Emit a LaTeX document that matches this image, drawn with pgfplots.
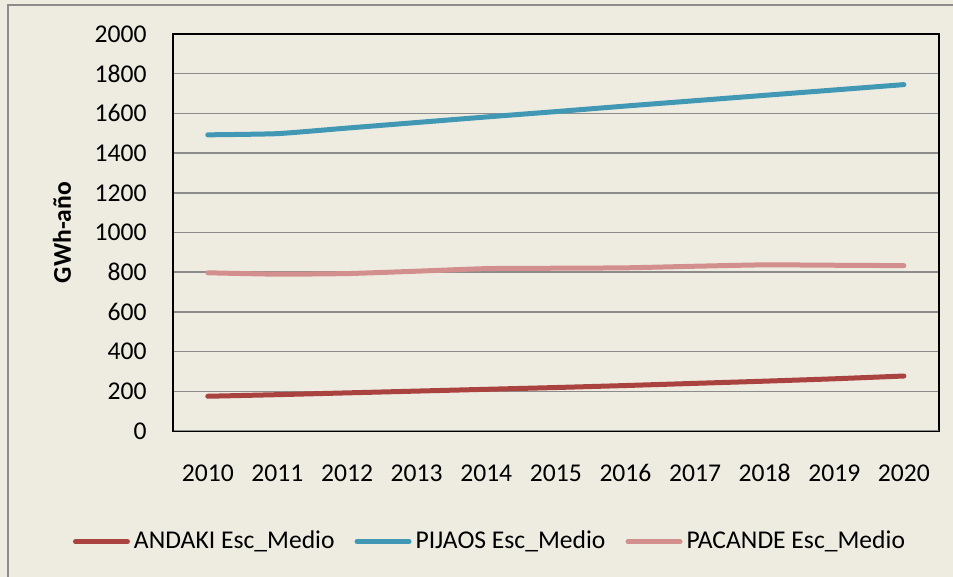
\documentclass[border=0pt]{standalone}
\usepackage{pgfplots}
\pgfplotsset{compat=1.18}
\usepackage{fontspec}
\setmainfont{Carlito}
\definecolor{bgc}{HTML}{EEECE1}
\definecolor{gridc}{HTML}{8C8C8C}
\definecolor{andaki}{HTML}{AA4340}
\definecolor{pijaos}{HTML}{4198B4}
\definecolor{pacande}{HTML}{D38F8E}
\begin{document}
\fontsize{12.8}{15}\selectfont
\begin{tikzpicture}
\clip (0,0) rectangle (476.5pt,288.5pt);
\fill[bgc] (0,0) rectangle (476.5pt,288.5pt);
\draw[gridc, line width=0.8pt] (4pt,-2pt) -- (4pt,286pt) -- (480pt,286pt);
\begin{axis}[
  at={(86.5pt,73pt)}, anchor=south west,
  scale only axis, width=382.85pt, height=198.5pt,
  xmin=2009.5, xmax=2020.5, ymin=0, ymax=2000,
  xtick={2010,2011,...,2020},
  ytick={0,200,...,2000},
  xticklabels={2010,2011,2012,2013,2014,2015,2016,2017,2018,2019,2020},
  major tick length=0pt,
  /pgf/number format/assume math mode=true,
  /pgf/number format/1000 sep={},
  ymajorgrids, grid style={gridc, line width=0.75pt},
  axis line style={black, line width=1pt},
  xticklabel style={anchor=north, inner sep=0pt, yshift=-16.5pt},
  yticklabel style={anchor=east, inner sep=0pt, xshift=-13pt},
  ylabel={\textbf{GWh-año}},
  ylabel style={at={(axis description cs:-0.145,0.5)}, anchor=center},
  legend columns=3,
  legend style={draw=none, fill=none, at={(axis description cs:0.4153,-0.2788)}, anchor=center,
    /tikz/every even column/.append style={column sep=8pt},
    cells={anchor=west}, inner sep=0pt},
  legend image code/.code={\draw[#1, line width=2.5pt, line cap=round] (0pt,0pt) -- (26pt,0pt);},
  every axis plot/.append style={line width=2.5pt, line cap=round, line join=round, no markers, smooth, tension=0.3},
]
\addplot[andaki] coordinates {(2010,175) (2011,183) (2012,192) (2013,201) (2014,210) (2015,219) (2016,229) (2017,240) (2018,251) (2019,263) (2020,277)};
\addlegendentry{ANDAKI Esc\_Medio}
\addplot[pijaos] coordinates {(2010,1492) (2011,1498) (2012,1526) (2013,1554) (2014,1582) (2015,1609) (2016,1637) (2017,1664) (2018,1691) (2019,1718) (2020,1745)};
\addlegendentry{PIJAOS Esc\_Medio}
\addplot[pacande] coordinates {(2010,797) (2011,790) (2012,793) (2013,805) (2014,818) (2015,820) (2016,822) (2017,830) (2018,837) (2019,835) (2020,833)};
\addlegendentry{PACANDE Esc\_Medio}
\draw[gridc, line width=1pt] (rel axis cs:0,0) -- (rel axis cs:1,0);
\draw[black, line width=1pt] (rel axis cs:0,0) -- (rel axis cs:0,1);
\end{axis}
\end{tikzpicture}
\end{document}
